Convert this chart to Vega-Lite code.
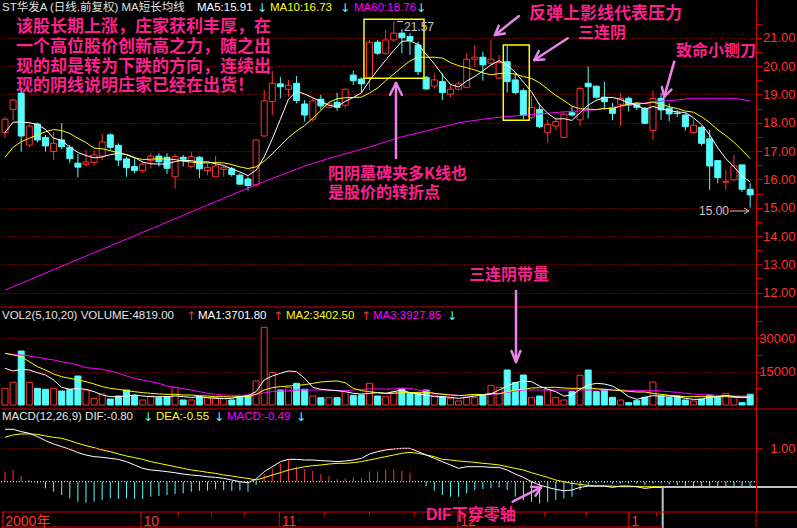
{
"$schema":"https://vega.github.io/schema/vega-lite/v6.json",
"background":"#000000","padding":0,"spacing":0,"bounds":"flush",
"config":{"view":{"stroke":null},"axis":{"labelFont":"Liberation Sans","labelColor":"#ff3232","domainColor":"#d00000","tickColor":"#d00000"}},
"datasets":{"k":[
{"i":1,"o":17.65,"h":18.21,"l":17.46,"c":18.12,"m5":17.65,"m10":16.78,"m60":12.09,"v":7500,"v1":16460,"v2":23200,"v3":23200,"dif":1.57,"dea":1.33,"mh":0.30},
{"i":2,"o":18.47,"h":18.85,"l":18.09,"c":18.80,"m5":18.02,"m10":17.13,"m60":12.21,"v":10200,"v1":15270,"v2":22450,"v3":22750,"dif":1.57,"dea":1.40,"mh":0.35},
{"i":3,"o":19.04,"h":19.18,"l":16.98,"c":17.53,"m5":18.02,"m10":17.33,"m60":12.33,"v":24250,"v1":16010,"v2":21700,"v3":22450,"dif":1.50,"dea":1.43,"mh":0.17},
{"i":4,"o":17.21,"h":17.98,"l":17.13,"c":17.88,"m5":18.00,"m10":17.45,"m60":12.45,"v":10200,"v1":15720,"v2":19460,"v3":22000,"dif":1.45,"dea":1.43,"mh":0.05},
{"i":5,"o":17.95,"h":18.00,"l":17.30,"c":17.39,"m5":17.94,"m10":17.57,"m60":12.57,"v":7500,"v1":14520,"v2":17210,"v3":21400,"dif":1.35,"dea":1.42,"mh":-0.05},
{"i":6,"o":17.48,"h":17.57,"l":16.98,"c":17.18,"m5":17.76,"m10":17.68,"m60":12.69,"v":7050,"v1":13470,"v2":15720,"v3":20800,"dif":1.23,"dea":1.37,"mh":-0.20},
{"i":7,"o":16.98,"h":17.68,"l":16.68,"c":17.27,"m5":17.45,"m10":17.76,"m60":12.81,"v":7500,"v1":11230,"v2":13920,"v3":20200,"dif":1.13,"dea":1.33,"mh":-0.30},
{"i":8,"o":17.39,"h":17.98,"l":17.06,"c":17.15,"m5":17.37,"m10":17.72,"m60":12.93,"v":6290,"v1":7930,"v2":12720,"v3":19460,"dif":1.05,"dea":1.30,"mh":-0.40},
{"i":9,"o":17.13,"h":17.21,"l":16.57,"c":16.73,"m5":17.14,"m10":17.62,"m60":13.05,"v":7050,"v1":7030,"v2":11970,"v3":18710,"dif":0.97,"dea":1.23,"mh":-0.50},
{"i":10,"o":16.57,"h":16.90,"l":16.07,"c":16.43,"m5":16.95,"m10":17.45,"m60":13.17,"v":13020,"v1":7480,"v2":11230,"v3":17960,"dif":0.87,"dea":1.15,"mh":-0.60},
{"i":11,"o":16.52,"h":17.04,"l":16.45,"c":16.61,"m5":16.84,"m10":17.30,"m60":13.29,"v":6740,"v1":7030,"v2":10480,"v3":16760,"dif":0.80,"dea":1.08,"mh":-0.63},
{"i":12,"o":16.59,"h":17.01,"l":16.47,"c":16.86,"m5":16.76,"m10":17.10,"m60":13.41,"v":3000,"v1":5990,"v2":9430,"v3":16460,"dif":0.75,"dea":1.02,"mh":-0.60},
{"i":13,"o":16.82,"h":17.60,"l":16.68,"c":17.32,"m5":16.79,"m10":17.08,"m60":13.53,"v":4940,"v1":4490,"v2":8230,"v3":16010,"dif":0.73,"dea":0.95,"mh":-0.55},
{"i":14,"o":17.57,"h":17.62,"l":17.04,"c":17.13,"m5":16.87,"m10":17.01,"m60":13.65,"v":2690,"v1":3740,"v2":7480,"v3":15270,"dif":0.70,"dea":0.90,"mh":-0.50},
{"i":15,"o":17.20,"h":17.27,"l":16.47,"c":16.68,"m5":16.92,"m10":16.94,"m60":13.77,"v":4040,"v1":3740,"v2":7030,"v3":14220,"dif":0.67,"dea":0.83,"mh":-0.52},
{"i":16,"o":16.72,"h":16.80,"l":16.09,"c":16.41,"m5":16.88,"m10":16.86,"m60":13.89,"v":6740,"v1":4040,"v2":6440,"v3":13020,"dif":0.60,"dea":0.77,"mh":-0.50},
{"i":17,"o":16.45,"h":16.74,"l":16.21,"c":16.31,"m5":16.77,"m10":16.76,"m60":14.01,"v":4340,"v1":4490,"v2":5990,"v3":11970,"dif":0.50,"dea":0.72,"mh":-0.52},
{"i":18,"o":16.31,"h":16.62,"l":16.23,"c":16.54,"m5":16.61,"m10":16.70,"m60":14.13,"v":2250,"v1":4040,"v2":5540,"v3":11230,"dif":0.40,"dea":0.67,"mh":-0.52},
{"i":19,"o":16.66,"h":16.92,"l":16.39,"c":16.82,"m5":16.55,"m10":16.71,"m60":14.25,"v":4040,"v1":3740,"v2":5240,"v3":10480,"dif":0.35,"dea":0.60,"mh":-0.45},
{"i":20,"o":16.82,"h":16.92,"l":16.45,"c":16.62,"m5":16.54,"m10":16.73,"m60":14.37,"v":3290,"v1":3740,"v2":4940,"v3":9730,"dif":0.33,"dea":0.55,"mh":-0.43},
{"i":21,"o":16.78,"h":16.92,"l":16.19,"c":16.39,"m5":16.54,"m10":16.71,"m60":14.49,"v":3740,"v1":3740,"v2":4790,"v3":8530,"dif":0.30,"dea":0.50,"mh":-0.40},
{"i":22,"o":16.09,"h":16.90,"l":15.68,"c":16.80,"m5":16.63,"m10":16.70,"m60":14.61,"v":7930,"v1":4040,"v2":4790,"v3":7930,"dif":0.27,"dea":0.45,"mh":-0.37},
{"i":23,"o":16.78,"h":16.86,"l":16.45,"c":16.71,"m5":16.67,"m10":16.64,"m60":14.73,"v":2250,"v1":3740,"v2":4490,"v3":7330,"dif":0.23,"dea":0.40,"mh":-0.35},
{"i":24,"o":16.45,"h":16.98,"l":16.39,"c":16.80,"m5":16.66,"m10":16.61,"m60":14.85,"v":2250,"v1":3440,"v2":4490,"v3":6740,"dif":0.20,"dea":0.35,"mh":-0.30},
{"i":25,"o":16.78,"h":16.82,"l":16.04,"c":16.37,"m5":16.61,"m10":16.58,"m60":14.97,"v":3740,"v1":3740,"v2":4190,"v3":5990,"dif":0.18,"dea":0.32,"mh":-0.27},
{"i":26,"o":16.31,"h":16.57,"l":16.15,"c":16.42,"m5":16.62,"m10":16.58,"m60":15.09,"v":3290,"v1":3290,"v2":4040,"v3":5240,"dif":0.15,"dea":0.28,"mh":-0.27},
{"i":27,"o":16.09,"h":16.82,"l":16.09,"c":16.47,"m5":16.55,"m10":16.59,"m60":15.21,"v":3290,"v1":2990,"v2":3740,"v3":4790,"dif":0.13,"dea":0.25,"mh":-0.23},
{"i":28,"o":16.35,"h":16.50,"l":16.09,"c":16.41,"m5":16.49,"m10":16.58,"m60":15.33,"v":3000,"v1":2840,"v2":3740,"v3":4490,"dif":0.10,"dea":0.20,"mh":-0.25},
{"i":29,"o":16.37,"h":16.45,"l":16.09,"c":16.17,"m5":16.37,"m10":16.52,"m60":15.45,"v":2250,"v1":2990,"v2":3590,"v3":4340,"dif":0.05,"dea":0.17,"mh":-0.27},
{"i":30,"o":16.15,"h":16.21,"l":15.80,"c":15.83,"m5":16.26,"m10":16.44,"m60":15.57,"v":3740,"v1":3740,"v2":3740,"v3":4340,"dif":0.00,"dea":0.13,"mh":-0.27},
{"i":31,"o":16.01,"h":16.09,"l":15.60,"c":15.78,"m5":16.13,"m10":16.38,"m60":15.69,"v":4040,"v1":4190,"v2":3740,"v3":4490,"dif":-0.03,"dea":0.10,"mh":-0.30},
{"i":32,"o":15.80,"h":17.41,"l":15.72,"c":17.39,"m5":16.32,"m10":16.44,"m60":15.81,"v":10780,"v1":5990,"v2":4790,"v3":4790,"dif":0.08,"dea":0.05,"mh":-0.10},
{"i":33,"o":17.53,"h":19.15,"l":17.51,"c":18.77,"m5":16.79,"m10":16.64,"m60":15.92,"v":34880,"v1":11230,"v2":6740,"v3":5540,"dif":0.30,"dea":0.12,"mh":0.23},
{"i":34,"o":18.74,"h":19.82,"l":18.27,"c":19.39,"m5":17.43,"m10":16.90,"m60":16.03,"v":14510,"v1":13020,"v2":7780,"v3":5990,"dif":0.45,"dea":0.20,"mh":0.40},
{"i":35,"o":19.37,"h":19.62,"l":18.86,"c":19.27,"m5":18.12,"m10":17.19,"m60":16.14,"v":6740,"v1":14220,"v2":8230,"v3":6290,"dif":0.60,"dea":0.27,"mh":0.55},
{"i":36,"o":19.18,"h":19.51,"l":18.92,"c":19.32,"m5":18.83,"m10":17.48,"m60":16.25,"v":7930,"v1":15270,"v2":8530,"v3":6440,"dif":0.67,"dea":0.35,"mh":0.65},
{"i":37,"o":19.39,"h":19.65,"l":18.68,"c":18.78,"m5":19.11,"m10":17.71,"m60":16.36,"v":9730,"v1":14970,"v2":8830,"v3":6740,"dif":0.67,"dea":0.40,"mh":0.45},
{"i":38,"o":18.66,"h":18.80,"l":18.04,"c":18.27,"m5":19.01,"m10":17.90,"m60":16.47,"v":7050,"v1":11970,"v2":9130,"v3":6740,"dif":0.65,"dea":0.45,"mh":0.38},
{"i":39,"o":18.12,"h":18.86,"l":18.04,"c":18.77,"m5":18.88,"m10":18.16,"m60":16.56,"v":4040,"v1":7930,"v2":9730,"v3":6740,"dif":0.65,"dea":0.48,"mh":0.33},
{"i":40,"o":18.83,"h":18.98,"l":18.45,"c":18.59,"m5":18.75,"m10":18.43,"m60":16.65,"v":3290,"v1":7030,"v2":10330,"v3":6740,"dif":0.63,"dea":0.50,"mh":0.23},
{"i":41,"o":18.54,"h":18.72,"l":18.50,"c":18.66,"m5":18.61,"m10":18.72,"m60":16.74,"v":3290,"v1":6740,"v2":10630,"v3":6740,"dif":0.62,"dea":0.53,"mh":0.17},
{"i":42,"o":18.72,"h":19.06,"l":18.42,"c":18.54,"m5":18.57,"m10":18.84,"m60":16.82,"v":3290,"v1":6440,"v2":10780,"v3":6440,"dif":0.60,"dea":0.55,"mh":0.08},
{"i":43,"o":18.62,"h":19.21,"l":18.51,"c":19.18,"m5":18.75,"m10":18.88,"m60":16.90,"v":6440,"v1":5990,"v2":10030,"v3":6440,"dif":0.62,"dea":0.55,"mh":0.10},
{"i":44,"o":19.68,"h":19.84,"l":19.33,"c":19.48,"m5":18.89,"m10":18.89,"m60":16.98,"v":4340,"v1":5240,"v2":7480,"v3":6740,"dif":0.65,"dea":0.57,"mh":0.13},
{"i":45,"o":19.54,"h":19.60,"l":19.06,"c":19.37,"m5":19.05,"m10":18.90,"m60":17.06,"v":4490,"v1":4940,"v2":6440,"v3":7030,"dif":0.70,"dea":0.60,"mh":0.10},
{"i":46,"o":19.60,"h":20.92,"l":19.15,"c":20.84,"m5":19.48,"m10":19.05,"m60":17.14,"v":9730,"v1":5240,"v2":5990,"v3":7180,"dif":0.83,"dea":0.65,"mh":0.30},
{"i":47,"o":20.84,"h":20.92,"l":20.39,"c":20.45,"m5":19.86,"m10":19.22,"m60":17.23,"v":4040,"v1":5540,"v2":5540,"v3":7180,"dif":0.90,"dea":0.70,"mh":0.30},
{"i":48,"o":20.45,"h":21.27,"l":20.39,"c":20.92,"m5":20.21,"m10":19.48,"m60":17.32,"v":3740,"v1":5240,"v2":5240,"v3":7180,"dif":0.95,"dea":0.75,"mh":0.37},
{"i":49,"o":20.92,"h":21.57,"l":20.86,"c":21.16,"m5":20.55,"m10":19.72,"m60":17.41,"v":5840,"v1":5990,"v2":5240,"v3":7180,"dif":0.98,"dea":0.80,"mh":0.37},
{"i":50,"o":21.16,"h":21.30,"l":20.45,"c":21.00,"m5":20.87,"m10":19.96,"m60":17.50,"v":7480,"v1":6740,"v2":5540,"v3":7480,"dif":1.00,"dea":0.85,"mh":0.33},
{"i":51,"o":21.04,"h":21.16,"l":20.39,"c":20.90,"m5":20.89,"m10":20.18,"m60":17.57,"v":5240,"v1":5540,"v2":5540,"v3":7480,"dif":1.00,"dea":0.88,"mh":0.27},
{"i":52,"o":20.74,"h":20.86,"l":19.68,"c":19.80,"m5":20.76,"m10":20.31,"m60":17.64,"v":5240,"v1":4940,"v2":5690,"v3":6740,"dif":0.90,"dea":0.85,"mh":0.03},
{"i":53,"o":19.60,"h":19.65,"l":19.16,"c":19.19,"m5":20.41,"m10":20.31,"m60":17.71,"v":6740,"v1":4490,"v2":5690,"v3":6440,"dif":0.80,"dea":0.80,"mh":-0.13},
{"i":54,"o":19.29,"h":19.74,"l":19.21,"c":19.51,"m5":20.08,"m10":20.31,"m60":17.78,"v":4490,"v1":3740,"v2":5240,"v3":5240,"dif":0.70,"dea":0.75,"mh":-0.27},
{"i":55,"o":19.45,"h":19.74,"l":18.80,"c":19.06,"m5":19.69,"m10":20.28,"m60":17.85,"v":3740,"v1":3740,"v2":4790,"v3":4940,"dif":0.60,"dea":0.67,"mh":-0.40},
{"i":56,"o":19.01,"h":19.33,"l":18.89,"c":19.18,"m5":19.35,"m10":20.12,"m60":17.92,"v":2990,"v1":3440,"v2":4490,"v3":4640,"dif":0.50,"dea":0.65,"mh":-0.45},
{"i":57,"o":19.18,"h":19.45,"l":19.14,"c":19.37,"m5":19.26,"m10":20.01,"m60":17.99,"v":1800,"v1":2990,"v2":4190,"v3":4340,"dif":0.40,"dea":0.62,"mh":-0.45},
{"i":58,"o":19.25,"h":20.45,"l":19.21,"c":20.24,"m5":19.47,"m10":19.94,"m60":18.04,"v":3290,"v1":3440,"v2":4490,"v3":4040,"dif":0.45,"dea":0.60,"mh":-0.35},
{"i":59,"o":20.24,"h":20.74,"l":19.98,"c":20.31,"m5":19.63,"m10":19.86,"m60":18.08,"v":3290,"v1":4040,"v2":4790,"v3":4190,"dif":0.45,"dea":0.58,"mh":-0.25},
{"i":60,"o":20.31,"h":20.51,"l":19.48,"c":20.04,"m5":19.83,"m10":19.76,"m60":18.12,"v":4490,"v1":4490,"v2":4640,"v3":4490,"dif":0.45,"dea":0.55,"mh":-0.22},
{"i":61,"o":20.10,"h":20.92,"l":20.04,"c":20.24,"m5":20.04,"m10":19.69,"m60":18.16,"v":8830,"v1":4940,"v2":5240,"v3":4790,"dif":0.43,"dea":0.53,"mh":-0.20},
{"i":62,"o":19.57,"h":20.39,"l":19.53,"c":20.12,"m5":20.19,"m10":19.73,"m60":18.19,"v":7930,"v1":6740,"v2":4940,"v3":5240,"dif":0.43,"dea":0.50,"mh":-0.17},
{"i":63,"o":20.15,"h":20.71,"l":19.06,"c":19.45,"m5":20.03,"m10":19.75,"m60":18.22,"v":15720,"v1":8530,"v2":5990,"v3":5690,"dif":0.35,"dea":0.45,"mh":-0.25},
{"i":64,"o":19.51,"h":19.78,"l":19.00,"c":19.06,"m5":19.78,"m10":19.71,"m60":18.24,"v":10030,"v1":10030,"v2":6740,"v3":6290,"dif":0.23,"dea":0.40,"mh":-0.45},
{"i":65,"o":19.13,"h":19.21,"l":18.12,"c":18.26,"m5":19.43,"m10":19.63,"m60":18.26,"v":13470,"v1":10780,"v2":7030,"v3":6740,"dif":0.13,"dea":0.35,"mh":-0.55},
{"i":66,"o":18.19,"h":18.95,"l":18.12,"c":18.54,"m5":19.09,"m10":19.56,"m60":18.29,"v":3440,"v1":10480,"v2":7630,"v3":6740,"dif":0.00,"dea":0.27,"mh":-0.60},
{"i":67,"o":18.47,"h":18.68,"l":17.80,"c":17.86,"m5":18.63,"m10":19.41,"m60":18.31,"v":4040,"v1":8530,"v2":7780,"v3":6740,"dif":-0.10,"dea":0.20,"mh":-0.65},
{"i":68,"o":17.66,"h":18.10,"l":17.29,"c":17.94,"m5":18.33,"m10":19.18,"m60":18.33,"v":7030,"v1":7030,"v2":7930,"v3":6740,"dif":-0.17,"dea":0.13,"mh":-0.60},
{"i":69,"o":17.88,"h":18.16,"l":17.74,"c":18.04,"m5":18.13,"m10":18.96,"m60":18.36,"v":3440,"v1":5990,"v2":7930,"v3":6740,"dif":-0.23,"dea":0.05,"mh":-0.55},
{"i":70,"o":17.48,"h":18.35,"l":17.48,"c":18.30,"m5":18.14,"m10":18.78,"m60":18.38,"v":2250,"v1":4040,"v2":7630,"v3":6740,"dif":-0.27,"dea":0.00,"mh":-0.50},
{"i":71,"o":18.35,"h":18.56,"l":18.21,"c":18.27,"m5":18.08,"m10":18.58,"m60":18.40,"v":5990,"v1":4490,"v2":7480,"v3":6740,"dif":-0.25,"dea":-0.05,"mh":-0.45},
{"i":72,"o":18.10,"h":19.27,"l":17.88,"c":19.21,"m5":18.35,"m10":18.49,"m60":18.42,"v":13320,"v1":7030,"v2":7480,"v3":6740,"dif":-0.17,"dea":-0.08,"mh":-0.25},
{"i":73,"o":19.39,"h":19.98,"l":18.15,"c":19.27,"m5":18.62,"m10":18.48,"m60":18.44,"v":15720,"v1":8980,"v2":7780,"v3":6740,"dif":-0.13,"dea":-0.11,"mh":-0.10},
{"i":74,"o":19.29,"h":19.30,"l":18.85,"c":18.90,"m5":18.79,"m10":18.46,"m60":18.46,"v":5990,"v1":9730,"v2":7330,"v3":6740,"dif":-0.13,"dea":-0.13,"mh":-0.05},
{"i":75,"o":18.90,"h":19.45,"l":18.45,"c":18.74,"m5":18.88,"m10":18.51,"m60":18.49,"v":7030,"v1":9430,"v2":7030,"v3":6740,"dif":-0.13,"dea":-0.13,"mh":-0.03},
{"i":76,"o":18.54,"h":18.70,"l":18.09,"c":18.33,"m5":18.89,"m10":18.49,"m60":18.54,"v":3440,"v1":8530,"v2":6740,"v3":6740,"dif":-0.17,"dea":-0.13,"mh":-0.05},
{"i":77,"o":18.65,"h":19.04,"l":17.88,"c":18.86,"m5":18.82,"m10":18.59,"m60":18.58,"v":2250,"v1":6440,"v2":6440,"v3":6740,"dif":-0.13,"dea":-0.15,"mh":-0.05},
{"i":78,"o":18.86,"h":18.92,"l":18.40,"c":18.62,"m5":18.69,"m10":18.65,"m60":18.62,"v":1050,"v1":3740,"v2":6140,"v3":6590,"dif":-0.13,"dea":-0.15,"mh":-0.05},
{"i":79,"o":18.68,"h":18.72,"l":18.45,"c":18.54,"m5":18.62,"m10":18.70,"m60":18.66,"v":1950,"v1":2540,"v2":5840,"v3":6440,"dif":-0.15,"dea":-0.15,"mh":-0.05},
{"i":80,"o":18.51,"h":18.55,"l":17.95,"c":17.98,"m5":18.47,"m10":18.67,"m60":18.70,"v":3440,"v1":3440,"v2":5840,"v3":6440,"dif":-0.20,"dea":-0.15,"mh":-0.10},
{"i":81,"o":17.72,"h":19.13,"l":17.39,"c":18.85,"m5":18.57,"m10":18.73,"m60":18.73,"v":10330,"v1":4190,"v2":5240,"v3":6440,"dif":-0.17,"dea":-0.15,"mh":-0.05},
{"i":82,"o":18.86,"h":19.04,"l":18.10,"c":18.45,"m5":18.49,"m10":18.65,"m60":18.76,"v":4040,"v1":4040,"v2":4790,"v3":6290,"dif":-0.17,"dea":-0.15,"mh":-0.05},
{"i":83,"o":18.51,"h":18.68,"l":18.05,"c":18.31,"m5":18.43,"m10":18.56,"m60":18.78,"v":3440,"v1":4040,"v2":4340,"v3":5990,"dif":-0.20,"dea":-0.16,"mh":-0.08},
{"i":84,"o":18.34,"h":18.45,"l":18.20,"c":18.32,"m5":18.38,"m10":18.50,"m60":18.80,"v":4040,"v1":3740,"v2":4040,"v3":5690,"dif":-0.22,"dea":-0.17,"mh":-0.10},
{"i":85,"o":18.27,"h":18.33,"l":17.72,"c":17.86,"m5":18.36,"m10":18.41,"m60":18.83,"v":2250,"v1":2990,"v2":3740,"v3":5240,"dif":-0.27,"dea":-0.19,"mh":-0.15},
{"i":86,"o":17.65,"h":18.12,"l":17.60,"c":17.91,"m5":18.17,"m10":18.37,"m60":18.86,"v":1800,"v1":2540,"v2":3740,"v3":4940,"dif":-0.30,"dea":-0.21,"mh":-0.18},
{"i":87,"o":17.84,"h":17.87,"l":17.18,"c":17.27,"m5":17.93,"m10":18.21,"m60":18.86,"v":2690,"v1":2540,"v2":3740,"v3":4640,"dif":-0.36,"dea":-0.24,"mh":-0.24},
{"i":88,"o":17.43,"h":17.74,"l":15.63,"c":16.47,"m5":17.57,"m10":18.00,"m60":18.86,"v":4490,"v1":3440,"v2":3740,"v3":4490,"dif":-0.46,"dea":-0.28,"mh":-0.36},
{"i":89,"o":16.66,"h":16.68,"l":15.86,"c":16.06,"m5":17.11,"m10":17.75,"m60":18.86,"v":3440,"v1":3740,"v2":3740,"v3":4340,"dif":-0.56,"dea":-0.34,"mh":-0.44},
{"i":90,"o":15.90,"h":16.33,"l":15.63,"c":15.93,"m5":16.73,"m10":17.54,"m60":18.86,"v":5240,"v1":4340,"v2":3740,"v3":4190,"dif":-0.63,"dea":-0.40,"mh":-0.46},
{"i":91,"o":15.98,"h":16.86,"l":15.95,"c":16.47,"m5":16.44,"m10":17.31,"m60":18.86,"v":3440,"v1":3740,"v2":3590,"v3":4040,"dif":-0.66,"dea":-0.45,"mh":-0.42},
{"i":92,"o":16.51,"h":16.51,"l":15.56,"c":15.65,"m5":16.12,"m10":17.03,"m60":18.82,"v":1050,"v1":3590,"v2":3290,"v3":4040,"dif":-0.74,"dea":-0.50,"mh":-0.48},
{"i":93,"o":15.65,"h":15.86,"l":15.00,"c":15.45,"m5":15.91,"m10":16.73,"m60":18.76,"v":4819,"v1":3702,"v2":3403,"v3":3928,"dif":-0.80,"dea":-0.55,"mh":-0.49}
]},
"vconcat":[
{"width":755,"height":307,"layer":[
{"data":{"name":"k"},"mark":{"type":"rule","strokeWidth":1},"encoding":{
"x":{"field":"i","type":"quantitative","scale":{"domain":[0.506,93.72],"nice":false,"zero":false,"padding":0},"axis":null},
"y":{"field":"l","type":"quantitative","scale":{"domain":[11.494,22.33],"nice":false,"zero":false},"axis":{"orient":"right","title":null,"tickCount":100,"values":[12,12.5,13,13.5,14,14.5,15,15.5,16,16.5,17,17.5,18,18.5,19,19.5,20,20.5,21,21.5],"labelExpr":"datum.value % 1 == 0 ? format(datum.value, '.2f') : ''","labelAlign":"right","labelPadding":33,"labelFontSize":13,"labelBaseline":"middle","tickSize":6,"labelOverlap":false,"labelFlush":false,"grid":true,"gridColor":"#c00000","gridDash":[1,2],"gridOpacity":{"condition":{"test":"datum.value % 1 != 0","value":0},"value":1}}},
"y2":{"field":"h"},
"color":{"condition":{"test":"datum.c >= datum.o","value":"#ff3232"},"value":"#54fcfc"}}},
{"data":{"name":"k"},"mark":{"type":"bar","size":6,"strokeWidth":1,"orient":"vertical"},"encoding":{
"x":{"field":"i","type":"quantitative"},
"y":{"field":"o","type":"quantitative"},"y2":{"field":"c"},
"fill":{"condition":{"test":"datum.c >= datum.o","value":"#000000"},"value":"#54fcfc"},
"stroke":{"condition":{"test":"datum.c >= datum.o","value":"#ff3232"},"value":"#54fcfc"}}},
{"data":{"name":"k"},"mark":{"type":"line","strokeWidth":1,"color":"#ff00ff"},"encoding":{"x":{"field":"i","type":"quantitative"},"y":{"field":"m60","type":"quantitative"}}},
{"data":{"name":"k"},"mark":{"type":"line","strokeWidth":1,"color":"#ffff00"},"encoding":{"x":{"field":"i","type":"quantitative"},"y":{"field":"m10","type":"quantitative"}}},
{"data":{"name":"k"},"mark":{"type":"line","strokeWidth":1,"color":"#ffffff"},"encoding":{"x":{"field":"i","type":"quantitative"},"y":{"field":"m5","type":"quantitative"}}},
{"data":{"values":[{}]},"mark":{"type":"rect","fillOpacity":0,"stroke":"#ffff00","strokeWidth":1.5},"encoding":{"x":{"datum":45.32,"type":"quantitative"},"x2":{"datum":52.73},"y":{"datum":21.65,"type":"quantitative"},"y2":{"datum":19.57}}},
{"data":{"values":[{}]},"mark":{"type":"rect","fillOpacity":0,"stroke":"#ffff00","strokeWidth":1.5},"encoding":{"x":{"datum":62.52,"type":"quantitative"},"x2":{"datum":65.73},"y":{"datum":20.74,"type":"quantitative"},"y2":{"datum":18.09}}},
{"data":{"values":[{}]},"mark":{"type":"rule","color":"#d00000","strokeWidth":1},"encoding":{"x":{"datum":0.506,"type":"quantitative"},"x2":{"datum":98.9},"y":{"datum":11.494,"type":"quantitative"}}},
{"data":{"values":[{"t":"ST华发A (日线.前复权) MA短长均线"}]},"mark":{"type":"text","align":"left","baseline":"middle","font":"Liberation Sans, Noto Sans CJK SC","fontSize":11.5,"color":"#e0e0e0"},"encoding":{"x":{"datum":0.63,"type":"quantitative"},"y":{"datum":22.04,"type":"quantitative"},"text":{"field":"t"}}},
{"data":{"values":[{"t":"MA5:15.91"}]},"mark":{"type":"text","align":"left","baseline":"middle","font":"Liberation Sans","fontSize":11.5,"color":"#ffffff"},"encoding":{"x":{"datum":24.7,"type":"quantitative"},"y":{"datum":22.04,"type":"quantitative"},"text":{"field":"t"}}},
{"data":{"values":[{"t":"↓"}]},"mark":{"type":"text","align":"left","baseline":"middle","font":"DejaVu Sans","fontSize":12,"color":"#54fcfc"},"encoding":{"x":{"datum":32.11,"type":"quantitative"},"y":{"datum":22.04,"type":"quantitative"},"text":{"field":"t"}}},
{"data":{"values":[{"t":"MA10:16.73"}]},"mark":{"type":"text","align":"left","baseline":"middle","font":"Liberation Sans","fontSize":11.5,"color":"#ffff00"},"encoding":{"x":{"datum":33.71,"type":"quantitative"},"y":{"datum":22.04,"type":"quantitative"},"text":{"field":"t"}}},
{"data":{"values":[{"t":"↓"}]},"mark":{"type":"text","align":"left","baseline":"middle","font":"DejaVu Sans","fontSize":12,"color":"#54fcfc"},"encoding":{"x":{"datum":42.36,"type":"quantitative"},"y":{"datum":22.04,"type":"quantitative"},"text":{"field":"t"}}},
{"data":{"values":[{"t":"MA60:18.76"}]},"mark":{"type":"text","align":"left","baseline":"middle","font":"Liberation Sans","fontSize":11.5,"color":"#ff00ff"},"encoding":{"x":{"datum":44.09,"type":"quantitative"},"y":{"datum":22.04,"type":"quantitative"},"text":{"field":"t"}}},
{"data":{"values":[{"t":"↓"}]},"mark":{"type":"text","align":"left","baseline":"middle","font":"DejaVu Sans","fontSize":12,"color":"#54fcfc"},"encoding":{"x":{"datum":51.74,"type":"quantitative"},"y":{"datum":22.04,"type":"quantitative"},"text":{"field":"t"}}},
{"data":{"values":[{"t":"该股长期上涨，庄家获利丰厚，在"}]},"mark":{"type":"text","align":"left","baseline":"middle","font":"Noto Sans CJK SC","fontWeight":"bold","fontSize":17,"color":"#ff1f8f"},"encoding":{"x":{"datum":2.36,"type":"quantitative"},"y":{"datum":21.38,"type":"quantitative"},"text":{"field":"t"}}},
{"data":{"values":[{"t":"一个高位股价创新高之力，随之出"}]},"mark":{"type":"text","align":"left","baseline":"middle","font":"Noto Sans CJK SC","fontWeight":"bold","fontSize":17,"color":"#ff1f8f"},"encoding":{"x":{"datum":2.36,"type":"quantitative"},"y":{"datum":20.66,"type":"quantitative"},"text":{"field":"t"}}},
{"data":{"values":[{"t":"现的却是转为下跌的方向，连续出"}]},"mark":{"type":"text","align":"left","baseline":"middle","font":"Noto Sans CJK SC","fontWeight":"bold","fontSize":17,"color":"#ff1f8f"},"encoding":{"x":{"datum":2.36,"type":"quantitative"},"y":{"datum":19.96,"type":"quantitative"},"text":{"field":"t"}}},
{"data":{"values":[{"t":"现的阴线说明庄家已经在出货！"}]},"mark":{"type":"text","align":"left","baseline":"middle","font":"Noto Sans CJK SC","fontWeight":"bold","fontSize":17,"color":"#ff1f8f"},"encoding":{"x":{"datum":2.36,"type":"quantitative"},"y":{"datum":19.31,"type":"quantitative"},"text":{"field":"t"}}},
{"data":{"values":[{"t":"反弹上影线代表压力"}]},"mark":{"type":"text","align":"left","baseline":"middle","font":"Noto Sans CJK SC","fontWeight":"bold","fontSize":17,"color":"#ff1f8f"},"encoding":{"x":{"datum":65.69,"type":"quantitative"},"y":{"datum":21.84,"type":"quantitative"},"text":{"field":"t"}}},
{"data":{"values":[{"t":"三连阴"}]},"mark":{"type":"text","align":"left","baseline":"middle","font":"Noto Sans CJK SC","fontWeight":"bold","fontSize":16,"color":"#ff1f8f"},"encoding":{"x":{"datum":71.74,"type":"quantitative"},"y":{"datum":21.16,"type":"quantitative"},"text":{"field":"t"}}},
{"data":{"values":[{"t":"致命小铡刀"}]},"mark":{"type":"text","align":"left","baseline":"middle","font":"Noto Sans CJK SC","fontWeight":"bold","fontSize":16,"color":"#ff1f8f"},"encoding":{"x":{"datum":83.84,"type":"quantitative"},"y":{"datum":20.53,"type":"quantitative"},"text":{"field":"t"}}},
{"data":{"values":[{"t":"阳阴墓碑夹多K线也"}]},"mark":{"type":"text","align":"left","baseline":"middle","font":"Noto Sans CJK SC","fontWeight":"bold","fontSize":16,"color":"#ff1f8f"},"encoding":{"x":{"datum":40.88,"type":"quantitative"},"y":{"datum":16.19,"type":"quantitative"},"text":{"field":"t"}}},
{"data":{"values":[{"t":"是股价的转折点"}]},"mark":{"type":"text","align":"left","baseline":"middle","font":"Noto Sans CJK SC","fontWeight":"bold","fontSize":16,"color":"#ff1f8f"},"encoding":{"x":{"datum":40.88,"type":"quantitative"},"y":{"datum":15.52,"type":"quantitative"},"text":{"field":"t"}}},
{"data":{"values":[{"t":"三连阴带量"}]},"mark":{"type":"text","align":"left","baseline":"middle","font":"Noto Sans CJK SC","fontWeight":"bold","fontSize":16,"color":"#ff1f8f"},"encoding":{"x":{"datum":58.28,"type":"quantitative"},"y":{"datum":12.62,"type":"quantitative"},"text":{"field":"t"}}},
{"data":{"values":[{"t":"21.57"}]},"mark":{"type":"text","align":"left","baseline":"middle","font":"Liberation Sans","fontSize":12,"color":"#c8c8c8"},"encoding":{"x":{"datum":50.26,"type":"quantitative"},"y":{"datum":21.38,"type":"quantitative"},"text":{"field":"t"}}},
{"data":{"values":[{"t":"15.00"}]},"mark":{"type":"text","align":"left","baseline":"middle","font":"Liberation Sans","fontSize":12,"color":"#c8c8c8"},"encoding":{"x":{"datum":86.68,"type":"quantitative"},"y":{"datum":14.88,"type":"quantitative"},"text":{"field":"t"}}},
{"data":{"values":[{}]},"mark":{"type":"rule","color":"#c8c8c8","strokeWidth":1},"encoding":{"x":{"datum":49.39,"type":"quantitative"},"x2":{"datum":50.14},"y":{"datum":21.571,"type":"quantitative"},"y2":{"datum":21.571}}},
{"data":{"values":[{}]},"mark":{"type":"rule","color":"#c8c8c8","strokeWidth":1},"encoding":{"x":{"datum":90.51,"type":"quantitative"},"x2":{"datum":92.85},"y":{"datum":14.882,"type":"quantitative"},"y2":{"datum":14.882}}},
{"data":{"values":[{}]},"mark":{"type":"rule","color":"#c8c8c8","strokeWidth":1},"encoding":{"x":{"datum":92.23,"type":"quantitative"},"x2":{"datum":92.85},"y":{"datum":14.988,"type":"quantitative"},"y2":{"datum":14.882}}},
{"data":{"values":[{}]},"mark":{"type":"rule","color":"#c8c8c8","strokeWidth":1},"encoding":{"x":{"datum":92.23,"type":"quantitative"},"x2":{"datum":92.85},"y":{"datum":14.776,"type":"quantitative"},"y2":{"datum":14.882}}},
{"data":{"values":[{}]},"mark":{"type":"rule","color":"#e884e8","strokeWidth":2.5,"strokeCap":"round"},"encoding":{"x":{"datum":64.457,"type":"quantitative"},"x2":{"datum":61.494},"y":{"datum":21.765,"type":"quantitative"},"y2":{"datum":21.095}}},
{"data":{"values":[{}]},"mark":{"type":"rule","color":"#e884e8","strokeWidth":2.5,"strokeCap":"round"},"encoding":{"x":{"datum":62.716,"type":"quantitative"},"x2":{"datum":61.494},"y":{"datum":21.148,"type":"quantitative"},"y2":{"datum":21.095}}},
{"data":{"values":[{}]},"mark":{"type":"rule","color":"#e884e8","strokeWidth":2.5,"strokeCap":"round"},"encoding":{"x":{"datum":61.951,"type":"quantitative"},"x2":{"datum":61.494},"y":{"datum":21.423,"type":"quantitative"},"y2":{"datum":21.095}}},
{"data":{"values":[{}]},"mark":{"type":"rule","color":"#e884e8","strokeWidth":2.5,"strokeCap":"round"},"encoding":{"x":{"datum":70.47,"type":"quantitative"},"x2":{"datum":66.35},"y":{"datum":20.978,"type":"quantitative"},"y2":{"datum":20.212}}},
{"data":{"values":[{}]},"mark":{"type":"rule","color":"#e884e8","strokeWidth":2.5,"strokeCap":"round"},"encoding":{"x":{"datum":67.58,"type":"quantitative"},"x2":{"datum":66.35},"y":{"datum":20.23,"type":"quantitative"},"y2":{"datum":20.212}}},
{"data":{"values":[{}]},"mark":{"type":"rule","color":"#e884e8","strokeWidth":2.5,"strokeCap":"round"},"encoding":{"x":{"datum":66.9,"type":"quantitative"},"x2":{"datum":66.35},"y":{"datum":20.526,"type":"quantitative"},"y2":{"datum":20.212}}},
{"data":{"values":[{}]},"mark":{"type":"rule","color":"#e884e8","strokeWidth":2.5,"strokeCap":"round"},"encoding":{"x":{"datum":83.63,"type":"quantitative"},"x2":{"datum":82.39},"y":{"datum":20.152,"type":"quantitative"},"y2":{"datum":18.917}}},
{"data":{"values":[{}]},"mark":{"type":"rule","color":"#e884e8","strokeWidth":2.5,"strokeCap":"round"},"encoding":{"x":{"datum":83.28,"type":"quantitative"},"x2":{"datum":82.39},"y":{"datum":19.164,"type":"quantitative"},"y2":{"datum":18.917}}},
{"data":{"values":[{}]},"mark":{"type":"rule","color":"#e884e8","strokeWidth":2.5,"strokeCap":"round"},"encoding":{"x":{"datum":82.1,"type":"quantitative"},"x2":{"datum":82.39},"y":{"datum":19.259,"type":"quantitative"},"y2":{"datum":18.917}}},
{"data":{"values":[{}]},"mark":{"type":"rule","color":"#e884e8","strokeWidth":2.5,"strokeCap":"round"},"encoding":{"x":{"datum":49.27,"type":"quantitative"},"x2":{"datum":49.27},"y":{"datum":16.753,"type":"quantitative"},"y2":{"datum":19.4}}},
{"data":{"values":[{}]},"mark":{"type":"rule","color":"#e884e8","strokeWidth":2.5,"strokeCap":"round"},"encoding":{"x":{"datum":48.53,"type":"quantitative"},"x2":{"datum":49.27},"y":{"datum":18.977,"type":"quantitative"},"y2":{"datum":19.4}}},
{"data":{"values":[{}]},"mark":{"type":"rule","color":"#e884e8","strokeWidth":2.5,"strokeCap":"round"},"encoding":{"x":{"datum":50.01,"type":"quantitative"},"x2":{"datum":49.27},"y":{"datum":18.977,"type":"quantitative"},"y2":{"datum":19.4}}}
]},
{"width":755,"height":102,"layer":[
{"data":{"name":"k"},"mark":{"type":"bar","size":6,"strokeWidth":1,"orient":"vertical"},"encoding":{
"x":{"field":"i","type":"quantitative","scale":{"domain":[0.506,93.72],"nice":false,"zero":false,"padding":0},"axis":null},
"y":{"field":"v","type":"quantitative","scale":{"domain":[-1796,44002],"nice":false,"zero":false},"axis":{"orient":"right","title":null,"tickCount":100,"values":[7500,15000,22500,30000,37500],"labelExpr":"datum.value % 15000 == 0 ? format(datum.value, 'd') : ''","labelAlign":"right","labelPadding":33,"labelFontSize":13,"labelBaseline":"middle","tickSize":6,"labelOverlap":false,"labelFlush":false,"grid":true,"gridColor":"#c00000","gridDash":[1,2],"gridOpacity":{"condition":{"test":"datum.value % 15000 != 0","value":0},"value":1}}},
"fill":{"condition":{"test":"datum.c >= datum.o","value":"#000000"},"value":"#54fcfc"},
"stroke":{"condition":{"test":"datum.c >= datum.o","value":"#ff3232"},"value":"#54fcfc"}}},
{"data":{"name":"k"},"mark":{"type":"line","strokeWidth":1,"color":"#ff00ff"},"encoding":{"x":{"field":"i","type":"quantitative"},"y":{"field":"v3","type":"quantitative"}}},
{"data":{"name":"k"},"mark":{"type":"line","strokeWidth":1,"color":"#ffff00"},"encoding":{"x":{"field":"i","type":"quantitative"},"y":{"field":"v2","type":"quantitative"}}},
{"data":{"name":"k"},"mark":{"type":"line","strokeWidth":1,"color":"#ffffff"},"encoding":{"x":{"field":"i","type":"quantitative"},"y":{"field":"v1","type":"quantitative"}}},
{"data":{"values":[{}]},"mark":{"type":"rule","color":"#d00000","strokeWidth":1},"encoding":{"x":{"datum":0.506,"type":"quantitative"},"x2":{"datum":98.9},"y":{"datum":-1796,"type":"quantitative"}}},
{"data":{"values":[{"t":"VOL2(5,10,20) VOLUME:4819.00"}]},"mark":{"type":"text","align":"left","baseline":"middle","font":"Liberation Sans","fontSize":11.5,"color":"#e6e6e6"},"encoding":{"x":{"datum":0.63,"type":"quantitative"},"y":{"datum":39960,"type":"quantitative"},"text":{"field":"t"}}},
{"data":{"values":[{"t":"↑"}]},"mark":{"type":"text","align":"left","baseline":"middle","font":"DejaVu Sans","fontSize":12,"color":"#ff3232"},"encoding":{"x":{"datum":23.35,"type":"quantitative"},"y":{"datum":39960,"type":"quantitative"},"text":{"field":"t"}}},
{"data":{"values":[{"t":"MA1:3701.80"}]},"mark":{"type":"text","align":"left","baseline":"middle","font":"Liberation Sans","fontSize":11.5,"color":"#ffffff"},"encoding":{"x":{"datum":24.83,"type":"quantitative"},"y":{"datum":39960,"type":"quantitative"},"text":{"field":"t"}}},
{"data":{"values":[{"t":"↑"}]},"mark":{"type":"text","align":"left","baseline":"middle","font":"DejaVu Sans","fontSize":12,"color":"#ff3232"},"encoding":{"x":{"datum":34.09,"type":"quantitative"},"y":{"datum":39960,"type":"quantitative"},"text":{"field":"t"}}},
{"data":{"values":[{"t":"MA2:3402.50"}]},"mark":{"type":"text","align":"left","baseline":"middle","font":"Liberation Sans","fontSize":11.5,"color":"#ffff00"},"encoding":{"x":{"datum":35.69,"type":"quantitative"},"y":{"datum":39960,"type":"quantitative"},"text":{"field":"t"}}},
{"data":{"values":[{"t":"↑"}]},"mark":{"type":"text","align":"left","baseline":"middle","font":"DejaVu Sans","fontSize":12,"color":"#ff3232"},"encoding":{"x":{"datum":44.95,"type":"quantitative"},"y":{"datum":39960,"type":"quantitative"},"text":{"field":"t"}}},
{"data":{"values":[{"t":"MA3:3927.85"}]},"mark":{"type":"text","align":"left","baseline":"middle","font":"Liberation Sans","fontSize":11.5,"color":"#ff00ff"},"encoding":{"x":{"datum":46.43,"type":"quantitative"},"y":{"datum":39960,"type":"quantitative"},"text":{"field":"t"}}},
{"data":{"values":[{"t":"↓"}]},"mark":{"type":"text","align":"left","baseline":"middle","font":"DejaVu Sans","fontSize":12,"color":"#54fcfc"},"encoding":{"x":{"datum":55.57,"type":"quantitative"},"y":{"datum":39960,"type":"quantitative"},"text":{"field":"t"}}},
{"data":{"values":[{}]},"mark":{"type":"rule","color":"#e884e8","strokeWidth":2.5,"strokeCap":"round"},"encoding":{"x":{"datum":64.09,"type":"quantitative"},"x2":{"datum":64.09},"y":{"datum":51186,"type":"quantitative"},"y2":{"datum":19307}}},
{"data":{"values":[{}]},"mark":{"type":"rule","color":"#e884e8","strokeWidth":2.5,"strokeCap":"round"},"encoding":{"x":{"datum":63.53,"type":"quantitative"},"x2":{"datum":64.09},"y":{"datum":24246,"type":"quantitative"},"y2":{"datum":19307}}},
{"data":{"values":[{}]},"mark":{"type":"rule","color":"#e884e8","strokeWidth":2.5,"strokeCap":"round"},"encoding":{"x":{"datum":64.64,"type":"quantitative"},"x2":{"datum":64.09},"y":{"datum":24246,"type":"quantitative"},"y2":{"datum":19307}}}
]},
{"width":755,"height":103,"layer":[
{"data":{"name":"k"},"mark":{"type":"rule","strokeWidth":1},"encoding":{
"x":{"field":"i","type":"quantitative","scale":{"domain":[0.506,93.72],"nice":false,"zero":false,"padding":0},"axis":{"orient":"bottom","title":null,"zindex":1,"domain":false,"grid":false,"tickCount":100,"values":[0.72,17.79,22.36,26.4,30.5,34.86,40.4,45.9,51.5,56.9,62.2,67.5,72.7,78,81.4],"labelExpr":"datum.value == 0.72 ? '2000年' : datum.value == 17.79 ? '10' : datum.value == 34.86 ? '11' : datum.value == 56.9 ? '12' : datum.value == 78 ? '1' : ''","labelFont":"Liberation Sans, Noto Sans CJK SC","labelFontSize":14,"labelAlign":"left","labelBaseline":"top","labelOffset":2,"labelPadding":-2,"tickSize":4,"labelOverlap":false,"labelFlush":false}},
"y":{"field":"mh","type":"quantitative","scale":{"domain":[-0.907,2.177],"nice":false,"zero":false},"axis":{"orient":"right","title":null,"zindex":1,"tickCount":100,"values":[1],"format":".2f","labelAlign":"right","labelPadding":33,"labelFontSize":13,"labelBaseline":"middle","tickSize":6,"labelOverlap":false,"labelFlush":false,"grid":true,"gridColor":"#c00000","gridDash":[1,2]}},
"y2":{"datum":0},
"color":{"condition":{"test":"datum.mh >= 0","value":"#ff3232"},"value":"#54fcfc"}}},
{"data":{"values":[{}]},"mark":{"type":"rule","color":"#ffffff","strokeWidth":1,"strokeDash":[1,2]},"encoding":{"x":{"datum":0.506,"type":"quantitative"},"x2":{"datum":93.72},"y":{"datum":0,"type":"quantitative"}}},
{"data":{"name":"k"},"mark":{"type":"line","strokeWidth":1,"color":"#ffff00"},"encoding":{"x":{"field":"i","type":"quantitative"},"y":{"field":"dea","type":"quantitative"}}},
{"data":{"name":"k"},"mark":{"type":"line","strokeWidth":1,"color":"#ffffff"},"encoding":{"x":{"field":"i","type":"quantitative"},"y":{"field":"dif","type":"quantitative"}}},
{"data":{"values":[{}]},"mark":{"type":"rect","fill":"#000000","stroke":"#c0c0c0","strokeWidth":2},"encoding":{"x":{"datum":82.2,"type":"quantitative"},"x2":{"datum":100},"y":{"datum":-0.159,"type":"quantitative"},"y2":{"datum":-1.7}}},
{"data":{"values":[{}]},"mark":{"type":"rule","color":"#d00000","strokeWidth":1},"encoding":{"x":{"datum":0.506,"type":"quantitative"},"x2":{"datum":98.9},"y":{"datum":-0.907,"type":"quantitative"}}},
{"data":{"values":[{}]},"mark":{"type":"rule","color":"#d00000","strokeWidth":1},"encoding":{"x":{"datum":0.506,"type":"quantitative"},"x2":{"datum":82.2},"y":{"datum":-1.356,"type":"quantitative"}}},
{"data":{"values":[{}]},"mark":{"type":"rule","color":"#d00000","strokeWidth":1},"encoding":{"x":{"datum":93.72,"type":"quantitative"},"y":{"datum":-0.907,"type":"quantitative"},"y2":{"datum":-1.356}}},
{"data":{"values":[{}]},"mark":{"type":"rule","color":"#d00000","strokeWidth":1},"encoding":{"x":{"datum":0.72,"type":"quantitative"},"y":{"datum":-0.907,"type":"quantitative"},"y2":{"datum":-1.356}}},
{"data":{"values":[{}]},"mark":{"type":"rule","color":"#d00000","strokeWidth":1},"encoding":{"x":{"datum":17.79,"type":"quantitative"},"y":{"datum":-0.907,"type":"quantitative"},"y2":{"datum":-1.356}}},
{"data":{"values":[{}]},"mark":{"type":"rule","color":"#d00000","strokeWidth":1},"encoding":{"x":{"datum":34.86,"type":"quantitative"},"y":{"datum":-0.907,"type":"quantitative"},"y2":{"datum":-1.356}}},
{"data":{"values":[{}]},"mark":{"type":"rule","color":"#d00000","strokeWidth":1},"encoding":{"x":{"datum":56.9,"type":"quantitative"},"y":{"datum":-0.907,"type":"quantitative"},"y2":{"datum":-1.356}}},
{"data":{"values":[{}]},"mark":{"type":"rule","color":"#d00000","strokeWidth":1},"encoding":{"x":{"datum":78,"type":"quantitative"},"y":{"datum":-0.907,"type":"quantitative"},"y2":{"datum":-1.356}}},
{"data":{"values":[{"t":"MACD(12,26,9) DIF:-0.80"}]},"mark":{"type":"text","align":"left","baseline":"middle","font":"Liberation Sans","fontSize":11.5,"color":"#e6e6e6"},"encoding":{"x":{"datum":0.63,"type":"quantitative"},"y":{"datum":1.946,"type":"quantitative"},"text":{"field":"t"}}},
{"data":{"values":[{"t":"↓"}]},"mark":{"type":"text","align":"left","baseline":"middle","font":"DejaVu Sans","fontSize":12,"color":"#54fcfc"},"encoding":{"x":{"datum":18.04,"type":"quantitative"},"y":{"datum":1.946,"type":"quantitative"},"text":{"field":"t"}}},
{"data":{"values":[{"t":"DEA:-0.55"}]},"mark":{"type":"text","align":"left","baseline":"middle","font":"Liberation Sans","fontSize":11.5,"color":"#ffff00"},"encoding":{"x":{"datum":19.64,"type":"quantitative"},"y":{"datum":1.946,"type":"quantitative"},"text":{"field":"t"}}},
{"data":{"values":[{"t":"↓"}]},"mark":{"type":"text","align":"left","baseline":"middle","font":"DejaVu Sans","fontSize":12,"color":"#54fcfc"},"encoding":{"x":{"datum":26.8,"type":"quantitative"},"y":{"datum":1.946,"type":"quantitative"},"text":{"field":"t"}}},
{"data":{"values":[{"t":"MACD:-0.49"}]},"mark":{"type":"text","align":"left","baseline":"middle","font":"Liberation Sans","fontSize":11.5,"color":"#ff00ff"},"encoding":{"x":{"datum":28.41,"type":"quantitative"},"y":{"datum":1.946,"type":"quantitative"},"text":{"field":"t"}}},
{"data":{"values":[{"t":"↓"}]},"mark":{"type":"text","align":"left","baseline":"middle","font":"DejaVu Sans","fontSize":12,"color":"#54fcfc"},"encoding":{"x":{"datum":36.93,"type":"quantitative"},"y":{"datum":1.946,"type":"quantitative"},"text":{"field":"t"}}},
{"data":{"values":[{"t":"DIF下穿零轴"}]},"mark":{"type":"text","align":"left","baseline":"middle","font":"Liberation Sans, Noto Sans CJK SC","fontWeight":"bold","fontSize":16,"color":"#ff1f8f"},"encoding":{"x":{"datum":52.97,"type":"quantitative"},"y":{"datum":-0.997,"type":"quantitative"},"text":{"field":"t"}}},
{"data":{"values":[{}]},"mark":{"type":"rule","color":"#e884e8","strokeWidth":2.5,"strokeCap":"round"},"encoding":{"x":{"datum":63.68,"type":"quantitative"},"x2":{"datum":67.17},"y":{"datum":-0.599,"type":"quantitative"},"y2":{"datum":-0.168}}},
{"data":{"values":[{}]},"mark":{"type":"rule","color":"#e884e8","strokeWidth":2.5,"strokeCap":"round"},"encoding":{"x":{"datum":65.94,"type":"quantitative"},"x2":{"datum":67.17},"y":{"datum":-0.153,"type":"quantitative"},"y2":{"datum":-0.168}}},
{"data":{"values":[{}]},"mark":{"type":"rule","color":"#e884e8","strokeWidth":2.5,"strokeCap":"round"},"encoding":{"x":{"datum":66.51,"type":"quantitative"},"x2":{"datum":67.17},"y":{"datum":-0.419,"type":"quantitative"},"y2":{"datum":-0.168}}}
]}
]}
